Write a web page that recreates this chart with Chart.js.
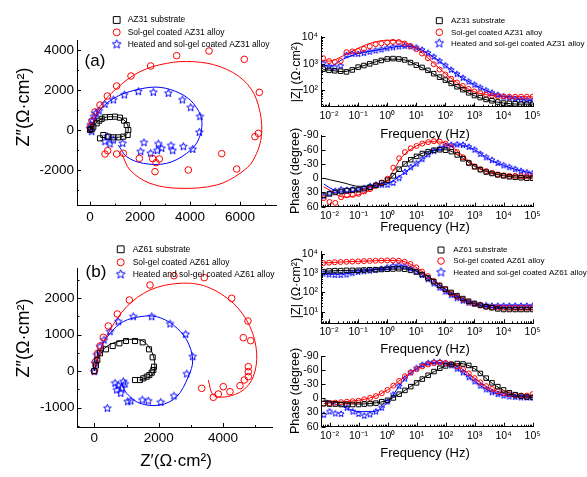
<!DOCTYPE html>
<html>
<head>
<meta charset="utf-8">
<script src="https://cdn.jsdelivr.net/npm/chart.js@4.4.1/dist/chart.umd.min.js"></script>
<style>
  body { margin: 0; background: #fff; }
  #wrap { position: relative; width: 587px; height: 477px; overflow: hidden; }
  #wrap canvas { position: absolute; left: 0; top: 0; }
</style>
</head>
<body>
<div id="wrap">
  <canvas id="nyqA" width="587" height="477"></canvas>
  <canvas id="nyqB" width="587" height="477"></canvas>
  <canvas id="magA" width="587" height="477"></canvas>
  <canvas id="phA" width="587" height="477"></canvas>
  <canvas id="magB" width="587" height="477"></canvas>
  <canvas id="phB" width="587" height="477"></canvas>
</div>
<script>
// ---- Bode data ----
const freq = [0.00631, 0.01, 0.0158, 0.0251, 0.0398, 0.0631, 0.1, 0.158, 0.251, 0.398, 0.631, 1, 1.58, 2.51, 3.98, 6.31, 10, 15.8, 25.1, 39.8, 63.1, 100, 158, 251, 398, 631, 1000, 1580, 2510, 3980, 6310, 10000, 15800, 25100, 39800, 63100, 100000];
const fitFreq = [0.00631, 0.01, 0.0316, 0.1, 0.316, 1, 3.16, 10, 31.6, 100, 316, 1000, 3160, 10000, 31600, 100000];

const az31SubMag = [620, 560, 540, 520, 490, 580, 740, 850, 980, 1150, 1320, 1500, 1550, 1500, 1380, 1100, 880, 720, 560, 420, 310, 240, 180, 135, 105, 80, 63, 53, 45, 40, 36, 33, 32, 31, 30, 30, 30];
const az31SolMag = [1600, 1250, 1150, 1250, 2700, 2900, 3000, 3600, 4500, 5400, 5800, 6200, 6600, 6500, 5700, 4600, 3500, 2400, 1600, 950, 600, 390, 270, 195, 145, 112, 90, 77, 68, 63, 60, 58, 57, 57, 57, 57, 57];
const az31HeatMag = [1000, 780, 720, 820, 2100, 2300, 2300, 2500, 2800, 3100, 3400, 3800, 4100, 4400, 4600, 4400, 4000, 3300, 2500, 1800, 1250, 850, 580, 400, 290, 210, 160, 125, 98, 80, 66, 57, 51, 47, 44, 42, 41];
const az31SubPhase = [36, 33, 30, 28, 26, 25, 24, 22, 19, 15, 10, 4, -5, -19, -30, -39, -46, -52, -56, -59, -60, -59, -56, -49, -41, -32, -24, -18, -13, -10, -7, -5, -3, -2, -1, 0, 0];
const az31SolPhase = [42, 50, 52, 40, 36, 35, 33, 28, 23, 16, 9, 1, -22, -42, -55, -63, -68, -73, -76, -78, -77, -73, -65, -55, -44, -33, -25, -19, -15, -11, -8, -6, -5, -5, -4, -4, -4];
const az31HeatPhase = [38, 32, 27, 24, 25, 24, 24, 21, 17, 14, 14, 14, 10, 0, -13, -23, -31, -40, -50, -57, -63, -68, -70, -71, -70, -66, -60, -51, -44, -38, -32, -27, -23, -19, -15, -12, -10];

const az61SubMag = [1200, 1300, 1350, 1350, 1400, 1400, 1400, 1450, 1500, 1500, 1550, 1600, 1650, 1700, 1600, 1400, 1150, 850, 560, 360, 230, 150, 100, 68, 48, 35, 27, 22, 18, 16, 14, 13, 13, 13, 13, 13, 13];
const az61SolMag = [3300, 3500, 3700, 3800, 3900, 4000, 4100, 4200, 4300, 4400, 4500, 4600, 4600, 4400, 3900, 3000, 2000, 1200, 700, 400, 230, 140, 88, 60, 43, 32, 25, 21, 18.5, 17, 16.5, 16, 16, 16, 16, 16, 16];
const az61HeatMag = [950, 850, 800, 800, 850, 1000, 1150, 1250, 1350, 1450, 1650, 1950, 2300, 2500, 2200, 1700, 1200, 800, 480, 290, 175, 110, 72, 50, 37, 29, 25, 22, 21, 20, 20, 20, 20, 20, 20, 20, 20];
const az61SubPhase = [11, 12, 12, 13, 13, 13, 13, 12, 11, 10, 7, 4, -1, -9, -17, -25, -33, -41, -49, -57, -64, -69, -72, -74, -73, -70, -63, -53, -43, -33, -25, -18, -12, -8, -5, -3, -2];
const az61SolPhase = [11, 10, 9, 8, 7, 6, 5, 2, -1, -5, -11, -18, -27, -37, -47, -55, -62, -68, -72, -75, -76, -75, -73, -68, -62, -53, -43, -34, -26, -20, -15, -11, -9, -7, -6, -6, -9];
const az61HeatPhase = [35, 28, 32, 33, 20, 28, 33, 37, 34, 28, 20, 7, -8, -26, -42, -55, -64, -71, -75, -77, -77, -74, -70, -63, -55, -45, -36, -27, -19, -13, -9, -6, -4, -3, -2, -2, -2];

// fitted curves
const az31SubMagFit = [600, 570, 500, 720, 1080, 1480, 1440, 900, 470, 230, 115, 62, 41, 33, 30, 30];
const az31SolMagFit = [1300, 1250, 2000, 3800, 6200, 7600, 6800, 3700, 1300, 420, 165, 88, 65, 58, 57, 57];
const az31HeatMagFit = [900, 800, 1500, 2400, 3000, 3800, 4500, 4000, 2100, 850, 340, 160, 88, 57, 45, 41];
const az31SubPhaseFit = [0, 3, 10, 17, 15, 5, -25, -47, -58, -60, -46, -25, -12, -5, -2, -1];
const az31SolPhaseFit = [18, 25, 40, 35, 22, 2, -45, -68, -77, -74, -52, -27, -14, -7, -5, -4];
const az31HeatPhaseFit = [12, 20, 32, 25, 16, 12, -8, -31, -54, -68, -70, -60, -40, -27, -17, -10];
const az61SubMagFit = [1250, 1300, 1380, 1420, 1500, 1600, 1650, 1300, 560, 150, 58, 27, 17, 14, 13, 13];
const az61SolMagFit = [3400, 3500, 3850, 4100, 4350, 4600, 4200, 2000, 540, 140, 51, 25, 18, 16, 16, 16];
const az61HeatMagFit = [900, 880, 900, 1150, 1450, 2000, 2400, 1250, 370, 110, 43, 25, 21, 20, 20, 20];
const az61SubPhaseFit = [3, 5, 10, 12, 10, 4, -13, -34, -53, -69, -74, -63, -37, -17, -6, -2];
const az61SolPhaseFit = [11, 10, 7, 4, -3, -18, -42, -62, -74, -75, -65, -43, -22, -11, -6, -5];
const az61HeatPhaseFit = [5, 8, 18, 28, 28, 8, -34, -64, -76, -74, -59, -36, -16, -6, -3, -2];

// ---- Nyquist data [Z', Z''] ----
const nyqAZ31Sub = [[0, 0], [60, 50], [133, 167], [267, 333], [373, 467], [467, 560], [600, 633], [800, 650], [1000, 667], [1200, 617], [1360, 467], [1467, 250], [1533, 0], [1507, -250], [1333, -333], [1133, -367], [933, -367], [733, -333], [533, -250], [400, -417]];
const nyqAZ31Sol = [[20, 150], [80, 450], [200, 900], [400, 1250], [693, 1700], [1067, 2200], [1640, 2700], [2427, 3200], [3467, 3717], [4760, 3950], [6173, 3533], [6773, 1883], [6733, -167], [6600, -333], [5867, -1950], [5267, -1183], [3933, -2000], [2773, -1450], [2600, -2083], [2640, -1633], [2507, -1433], [1973, -1417], [1333, -1167], [1067, -1200], [707, -1033], [600, -1200]];
const nyqAZ31Heat = [[67, -83], [0, 83], [27, 250], [93, 467], [160, 667], [240, 833], [360, 950], [600, 1283], [933, 1500], [1373, 1750], [1933, 1917], [2533, 1883], [3133, 1833], [3693, 1500], [4027, 1117], [4400, 667], [4373, -117], [4107, -967], [3733, -833], [3307, -1033], [3240, -783], [2867, -917], [2733, -700], [2693, -1033], [2427, -1167], [2160, -633], [2027, -1083], [1307, -667], [933, -500], [800, -700], [600, -583], [693, -333]];
const nyqAZ31SubFit = [[0, 0], [150, 250], [350, 480], [650, 640], [1000, 660], [1250, 590], [1450, 380], [1530, 100], [1490, -170], [1330, -310], [1050, -370], [750, -340]];
const nyqAZ31SolFit = [[0, 0], [400, 1167], [1067, 2083], [2000, 2917], [3067, 3333], [4133, 3417], [5200, 3167], [6133, 2500], [6667, 1500], [6867, -167], [6533, -1500], [6000, -2167], [5067, -2750], [3600, -2917], [2400, -2667], [1600, -2000], [1267, -1167]];
const nyqAZ31HeatFit = [[0, 0], [67, 167], [400, 1000], [1067, 1667], [2000, 2050], [2800, 2133], [3600, 1833], [4133, 1333], [4467, 500], [4333, -500], [3867, -1167], [3067, -1667], [2133, -1667], [1467, -1333], [1133, -750]];

const nyqAZ61Sub = [[0, 0], [50, 150], [93, 301], [177, 485], [363, 594], [571, 685], [777, 758], [984, 822], [1264, 822], [1503, 785], [1699, 594], [1813, 375], [1854, 118], [1833, 27], [1783, -46], [1708, -110], [1627, -155], [1522, -201], [1419, -247], [1264, -247]];
const nyqAZ61Sol = [[0, 0], [30, 250], [105, 485], [177, 685], [280, 923], [435, 1233], [714, 1562], [1087, 1945], [1730, 2356], [2475, 2611], [3416, 2557], [4267, 1991], [4773, 1370], [4627, 913], [4857, 831], [4783, 119], [4783, -18], [4783, -155], [4658, -247], [4525, -402], [4214, -566], [4006, -429], [3851, -630], [3696, -721], [3335, -475]];
const nyqAZ61Heat = [[0, -18], [22, 210], [75, 438], [177, 666], [301, 849], [488, 1077], [745, 1351], [1211, 1488], [1783, 1488], [2351, 1288], [2838, 1005], [3056, 392], [2870, -82], [2475, -685], [2062, -858], [1677, -822], [1491, -795], [1130, -822], [1037, -841], [643, -337], [745, -402], [851, -475], [953, -356], [820, -612], [696, -521], [901, -292], [404, -1023]];
const nyqAZ61SubFit = [[0, 0], [150, 400], [400, 680], [800, 820], [1200, 870], [1550, 800], [1800, 500], [1880, 150], [1820, -80], [1600, -200], [1400, -250]];
const nyqAZ61SolFit = [[0, 0], [22, 118], [177, 575], [488, 1123], [1006, 1762], [1730, 2219], [2662, 2403], [3491, 2310], [4317, 1855], [4835, 1214], [5043, 485], [4938, -156], [4627, -521], [4112, -704], [3696, -658], [3540, -247]];
const nyqAZ61HeatFit = [[0, 0], [22, 74], [177, 575], [488, 1032], [901, 1351], [1419, 1488], [1938, 1488], [2453, 1260], [2870, 849], [3056, 301], [2919, -156], [2559, -704], [2040, -932], [1419, -885], [1006, -612], [851, -337]];

// ---- ticks ----
const freqDecades = [0.01, 0.1, 1, 10, 100, 1000, 10000, 100000];
const freqLabels = ['10⁻²', '10⁻¹', '10⁰', '10¹', '10²', '10³', '10⁴', '10⁵'];
const magADecades = [100, 1000, 10000];
const magALabels = ['10²', '10³', '10⁴'];
const magBDecades = [10, 100, 1000, 10000];
const magBLabels = ['10¹', '10²', '10³', '10⁴'];
const phaseTicks = [-90, -60, -30, 0, 30, 60];
const phaseLabels = ['-90', '-60', '-30', '0', '30', '60'];
const nyqAXTicks = [0, 1000, 2000, 3000, 4000, 5000, 6000, 7000];
const nyqAXLabels = ['0', '', '2000', '', '4000', '', '6000', ''];
const nyqAYTicks = [-3000, -2000, -1000, 0, 1000, 2000, 3000, 4000];
const nyqAYLabels = ['', '-2000', '', '0', '', '2000', '', '4000'];
const nyqBXTicks = [0, 1000, 2000, 3000, 4000, 5000];
const nyqBXLabels = ['0', '', '2000', '', '4000', ''];
const nyqBYTicks = [-1500, -1000, -500, 0, 500, 1000, 1500, 2000, 2500];
const nyqBYLabels = ['', '-1000', '', '0', '', '1000', '', '2000', ''];

const W = 587, H = 477;
const FONT = "'Liberation Sans', Arial, sans-serif";
const BLACK = '#000000', RED = '#ff0000', BLUE = '#0000ff';

Chart.defaults.font.family = FONT;
Chart.defaults.color = '#000';
Chart.defaults.animation = false;

function starImage(r, color) {
  const c = document.createElement('canvas');
  const s = Math.ceil(r * 2 + 3);
  c.width = s;
  c.height = s;
  const g = c.getContext('2d');
  g.strokeStyle = color;
  g.lineWidth = 1;
  g.beginPath();
  for (let i = 0; i < 10; i++) {
    const a = -Math.PI / 2 + (i * Math.PI) / 5;
    const rr = i % 2 ? r * 0.45 : r;
    g.lineTo(s / 2 + rr * Math.cos(a), s / 2 + rr * Math.sin(a));
  }
  g.closePath();
  g.stroke();
  return c;
}
const starBig = starImage(4, BLUE);
const starSmall = starImage(3.2, BLUE);
const starLegend = starImage(4.6, BLUE);

const pts = (xs, ys) => xs.map((x, i) => ({ x, y: ys[i] }));
const pairs = (arr) => arr.map(([x, y]) => ({ x, y }));

function markerSet(data, style, color, r) {
  return { data, showLine: false, pointStyle: style, pointRadius: r, pointHoverRadius: r,
    borderColor: color, backgroundColor: 'rgba(0,0,0,0)', borderWidth: 1 };
}
function lineSet(data, color, mono) {
  return { data, showLine: true, pointRadius: 0, borderColor: color, borderWidth: 1, fill: false,
    tension: 0.35, cubicInterpolationMode: mono ? 'monotone' : 'default' };
}

function tickOpts(size, cb) {
  return { callback: cb, autoSkip: false, maxRotation: 0, minRotation: 0, padding: 3, font: { size }, color: '#000' };
}
function linScale(min, max, ticks, labels, size, extra) {
  return Object.assign({
    type: 'linear', min, max, bounds: 'data',
    afterBuildTicks: (s) => { s.ticks = ticks.map((v) => ({ value: v })); },
    ticks: tickOpts(size, (v, i) => labels[i]),
    grid: { display: false, drawTicks: false },
    border: { display: true, color: '#000', width: 1 },
  }, extra || {});
}
function logScale(min, max, decades, labels, size) {
  const vals = [];
  for (let e = Math.floor(Math.log10(min)); e <= Math.floor(Math.log10(max)); e++) {
    for (let m = 1; m < 10; m++) {
      const v = m * Math.pow(10, e);
      if (v >= min && v <= max) vals.push(v);
    }
  }
  return {
    type: 'logarithmic', min, max, bounds: 'data',
    afterBuildTicks: (s) => { s.ticks = vals.map((v) => ({ value: v })); },
    ticks: tickOpts(size, (v) => {
      const i = decades.findIndex((d) => Math.abs(v / d - 1) < 1e-6);
      return i < 0 ? '' : labels[i];
    }),
    grid: { display: false, drawTicks: false },
    border: { display: true, color: '#000', width: 1 },
  };
}

// inward tick marks, short ones for unlabeled ticks
const tickMarks = {
  id: 'tickMarks',
  afterDraw(chart) {
    const ctx = chart.ctx;
    const a = chart.chartArea;
    ctx.save();
    ctx.strokeStyle = '#000';
    ctx.lineWidth = 1;
    Object.values(chart.scales).forEach((s) => {
      s.ticks.forEach((t) => {
        const len = t.label === '' ? 2 : 4;
        const p = Math.round(s.getPixelForValue(t.value)) + 0.5;
        ctx.beginPath();
        if (s.isHorizontal()) {
          if (p < a.left || p > a.right + 1) return;
          ctx.moveTo(p, a.bottom);
          ctx.lineTo(p, a.bottom - len);
        } else {
          if (p < a.top - 1 || p > a.bottom + 1) return;
          ctx.moveTo(a.left, p);
          ctx.lineTo(a.left + len, p);
        }
        ctx.stroke();
      });
    });
    ctx.restore();
  },
};

// axis titles, panel letters and legends
const extras = {
  id: 'extras',
  afterDraw(chart, args, opts) {
    const ctx = chart.ctx;
    (opts.texts || []).forEach((t) => {
      ctx.save();
      ctx.font = `${t.size}px ${FONT}`;
      ctx.fillStyle = '#000';
      ctx.textAlign = t.align || 'center';
      ctx.textBaseline = 'middle';
      ctx.translate(t.x, t.y);
      if (t.rot) ctx.rotate(-Math.PI / 2);
      ctx.fillText(t.text, 0, 0);
      ctx.restore();
    });
    const lg = opts.legend;
    if (!lg) return;
    lg.items.forEach((it, i) => {
      ctx.save();
      ctx.strokeStyle = it.color;
      ctx.fillStyle = 'rgba(0,0,0,0)';
      ctx.lineWidth = 1;
      Chart.helpers.drawPoint(ctx, { pointStyle: it.style, radius: it.r, borderWidth: 1 }, lg.mx, lg.y[i]);
      ctx.fillStyle = '#000';
      ctx.font = `${lg.size}px ${FONT}`;
      ctx.textAlign = 'left';
      ctx.textBaseline = 'middle';
      ctx.fillText(it.text, lg.tx, lg.y[i]);
      ctx.restore();
    });
  },
};

function makeChart(id, area, yw, xh, xScale, yScale, datasets, extraOpts) {
  return new Chart(document.getElementById(id), {
    type: 'scatter',
    data: { datasets },
    options: {
      responsive: false,
      animation: false,
      events: [],
      layout: { padding: { left: area.l - yw, top: area.t, right: W - area.r, bottom: H - area.b - xh } },
      scales: {
        x: Object.assign(xScale, { afterFit: (s) => { s.height = xh; } }),
        y: Object.assign(yScale, { afterFit: (s) => { s.width = yw; } }),
      },
      plugins: { legend: { display: false }, tooltip: { enabled: false }, extras: extraOpts },
    },
    plugins: [tickMarks, extras],
  });
}

const legendA = (names, mx, tx, y, size, rs) => ({
  mx, tx, y, size,
  items: [
    { text: names[0], style: 'rect', color: BLACK, r: rs[0] },
    { text: names[1], style: 'circle', color: RED, r: rs[1] },
    { text: names[2], style: starLegend, color: BLUE, r: rs[1] },
  ],
});
const az31Names = ['AZ31 substrate', 'Sol-gel coated AZ31 alloy', 'Heated and sol-gel coated AZ31 alloy'];
const az61Names = ['AZ61 substrate', 'Sol-gel coated AZ61 alloy', 'Heated and sol-gel coated AZ61 alloy'];

// ---- (a) Nyquist ----
makeChart('nyqA', { l: 77, t: 40, r: 276, b: 205.7 }, 50, 25,
  linScale(-520, 7440, nyqAXTicks, nyqAXLabels, 13.5),
  linScale(-3785, 4500, nyqAYTicks, nyqAYLabels, 13.5),
  [
    markerSet(pairs(nyqAZ31Sub), 'rect', BLACK, 3.6),
    markerSet(pairs(nyqAZ31Sol), 'circle', RED, 3.3),
    markerSet(pairs(nyqAZ31Heat), starBig, BLUE, 3),
    lineSet(pairs(nyqAZ31SubFit), BLACK),
    lineSet(pairs(nyqAZ31SolFit), RED),
    lineSet(pairs(nyqAZ31HeatFit), BLUE),
  ],
  {
    texts: [
      { text: 'Z″(Ω·cm²)', x: 24, y: 107, size: 18, rot: true },
      { text: '(a)', x: 95, y: 61, size: 17 },
    ],
    legend: legendA(az31Names, 116.7, 127.7, [20, 32.3, 44.3], 8.5, [4.8, 3.5]),
  });

// ---- (b) Nyquist ----
makeChart('nyqB', { l: 77.5, t: 268, r: 272, b: 427 }, 50, 25,
  linScale(-522, 5519, nyqBXTicks, nyqBXLabels, 13.5),
  linScale(-1534, 2822, nyqBYTicks, nyqBYLabels, 13.5),
  [
    markerSet(pairs(nyqAZ61Sub), 'rect', BLACK, 3.6),
    markerSet(pairs(nyqAZ61Sol), 'circle', RED, 3.3),
    markerSet(pairs(nyqAZ61Heat), starBig, BLUE, 3),
    lineSet(pairs(nyqAZ61SubFit), BLACK),
    lineSet(pairs(nyqAZ61SolFit), RED),
    lineSet(pairs(nyqAZ61HeatFit), BLUE),
  ],
  {
    texts: [
      { text: 'Z″(Ω·cm²)', x: 24, y: 338, size: 18, rot: true },
      { text: 'Z′(Ω·cm²)', x: 176, y: 461, size: 17 },
      { text: '(b)', x: 96, y: 272, size: 17 },
    ],
    legend: legendA(az61Names, 120.7, 132.7, [249.3, 262.3, 274.3], 8.5, [4.8, 3.5]),
  });

// ---- (a) Bode ----
makeChart('magA', { l: 321, t: 36.5, r: 533, b: 106.7 }, 28, 18,
  logScale(0.0053, 103000, freqDecades, freqLabels, 10.5),
  logScale(24, 10500, magADecades, magALabels, 10.5),
  [
    markerSet(pts(freq, az31SubMag), 'rect', BLACK, 3.2),
    markerSet(pts(freq, az31SolMag), 'circle', RED, 2.5),
    markerSet(pts(freq, az31HeatMag), starSmall, BLUE, 3),
    lineSet(pts(fitFreq, az31SubMagFit), BLACK, true),
    lineSet(pts(fitFreq, az31SolMagFit), RED, true),
    lineSet(pts(fitFreq, az31HeatMagFit), BLUE, true),
  ],
  {
    texts: [
      { text: '|Z| (Ω·cm²)', x: 297, y: 72, size: 12.5, rot: true },
      { text: 'Frequency (Hz)', x: 425, y: 134, size: 13 },
    ],
    legend: legendA(az31Names, 439.3, 451, [20.7, 32.3, 43.3], 8, [4.2, 3.3]),
  });

makeChart('phA', { l: 321.5, t: 135.5, r: 533, b: 206.7 }, 28, 18,
  logScale(0.0053, 103000, freqDecades, freqLabels, 10.5),
  linScale(-90, 60, phaseTicks, phaseLabels, 10.5, { reverse: true }),
  [
    markerSet(pts(freq, az31SubPhase), 'rect', BLACK, 3.2),
    markerSet(pts(freq, az31SolPhase), 'circle', RED, 2.5),
    markerSet(pts(freq, az31HeatPhase), starSmall, BLUE, 3),
    lineSet(pts(fitFreq, az31SubPhaseFit), BLACK, true),
    lineSet(pts(fitFreq, az31SolPhaseFit), RED, true),
    lineSet(pts(fitFreq, az31HeatPhaseFit), BLUE, true),
  ],
  {
    texts: [
      { text: 'Phase (degree)', x: 296, y: 171, size: 12.5, rot: true },
      { text: 'Frequency (Hz)', x: 425, y: 227, size: 13 },
    ],
  });

// ---- (b) Bode ----
makeChart('magB', { l: 321, t: 251.7, r: 533, b: 323.3 }, 28, 18,
  logScale(0.0053, 103000, freqDecades, freqLabels, 10.5),
  logScale(2.5, 13000, magBDecades, magBLabels, 10.5),
  [
    markerSet(pts(freq, az61SubMag), 'rect', BLACK, 3.2),
    markerSet(pts(freq, az61SolMag), 'circle', RED, 2.5),
    markerSet(pts(freq, az61HeatMag), starSmall, BLUE, 3),
    lineSet(pts(fitFreq, az61SubMagFit), BLACK, true),
    lineSet(pts(fitFreq, az61SolMagFit), RED, true),
    lineSet(pts(fitFreq, az61HeatMagFit), BLUE, true),
  ],
  {
    texts: [
      { text: '|Z| (Ω·cm²)', x: 297, y: 288, size: 12.5, rot: true },
      { text: 'Frequency (Hz)', x: 425, y: 349, size: 13 },
    ],
    legend: legendA(az61Names, 441, 453.3, [250, 261, 272.3], 8, [4.2, 3.3]),
  });

makeChart('phB', { l: 321.5, t: 356, r: 533, b: 426.7 }, 28, 18,
  logScale(0.0053, 103000, freqDecades, freqLabels, 10.5),
  linScale(-90, 60, phaseTicks, phaseLabels, 10.5, { reverse: true }),
  [
    markerSet(pts(freq, az61SubPhase), 'rect', BLACK, 3.2),
    markerSet(pts(freq, az61SolPhase), 'circle', RED, 2.5),
    markerSet(pts(freq, az61HeatPhase), starSmall, BLUE, 3),
    lineSet(pts(fitFreq, az61SubPhaseFit), BLACK, true),
    lineSet(pts(fitFreq, az61SolPhaseFit), RED, true),
    lineSet(pts(fitFreq, az61HeatPhaseFit), BLUE, true),
  ],
  {
    texts: [
      { text: 'Phase (degree)', x: 296, y: 391, size: 12.5, rot: true },
      { text: 'Frequency (Hz)', x: 425, y: 453, size: 13 },
    ],
  });
</script>
</body>
</html>
